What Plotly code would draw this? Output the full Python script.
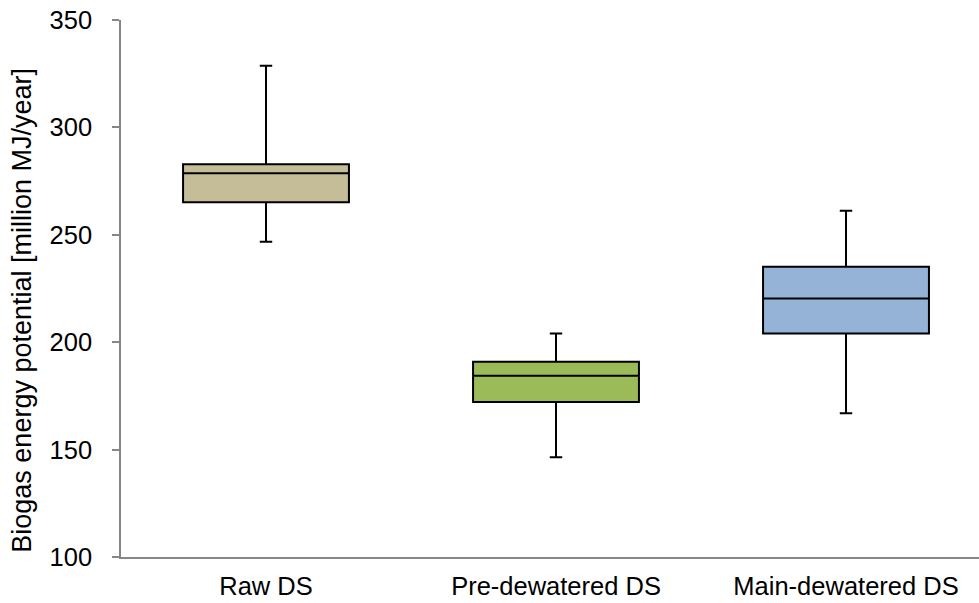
import plotly.graph_objects as go

# Five-number summaries of biogas energy potential per sludge type
categories = ["Raw DS", "Pre-dewatered DS", "Main-dewatered DS"]
lower = [246.8, 146.4, 166.9]
q1 = [265.1, 172.2, 204.1]
median = [278.6, 184.4, 220.4]
q3 = [282.8, 190.9, 235.1]
upper = [328.7, 204.0, 261.2]
colors = ["#C4BD97", "#9BBB59", "#95B3D7"]

fig = go.Figure()
for i, cat in enumerate(categories):
    fig.add_trace(go.Box(
        x=[cat],
        q1=[q1[i]], median=[median[i]], q3=[q3[i]],
        lowerfence=[lower[i]], upperfence=[upper[i]],
        fillcolor=colors[i],
        line=dict(color="black", width=2),
        whiskerwidth=0.075,
        width=0.572,
        boxpoints=False,
        showlegend=False,
        hoverinfo="skip",
    ))

font_family = "Liberation Sans, Arial, sans-serif"
fig.update_layout(
    width=979, height=603,
    margin=dict(l=121, r=0, t=20, b=46),
    plot_bgcolor="white", paper_bgcolor="white",
    font=dict(family=font_family, color="black"),
    xaxis=dict(
        type="category",
        categoryorder="array", categoryarray=categories,
        range=[-0.5, 2.4586],
        showline=True, linecolor="#868686", linewidth=1.5,
        ticks="", showgrid=False, zeroline=False,
        tickfont=dict(size=25.5),
        ticklabelstandoff=6,
    ),
    yaxis=dict(
        range=[100, 350], dtick=50,
        showline=True, linecolor="#868686", linewidth=1.5,
        ticks="outside", ticklen=7, tickcolor="#868686", tickwidth=1.5,
        showgrid=False, zeroline=False,
        tickfont=dict(size=25.5),
        ticklabelstandoff=15,
    ),
)

# Vertical axis title placed as a rotated annotation
fig.add_annotation(
    text="Biogas energy potential [million MJ/year]",
    xref="paper", yref="paper",
    x=-0.1157, y=0.46,
    xanchor="center", yanchor="middle",
    textangle=-90, showarrow=False,
    font=dict(size=27, family=font_family, color="black"),
)

fig.write_html("out.html")
